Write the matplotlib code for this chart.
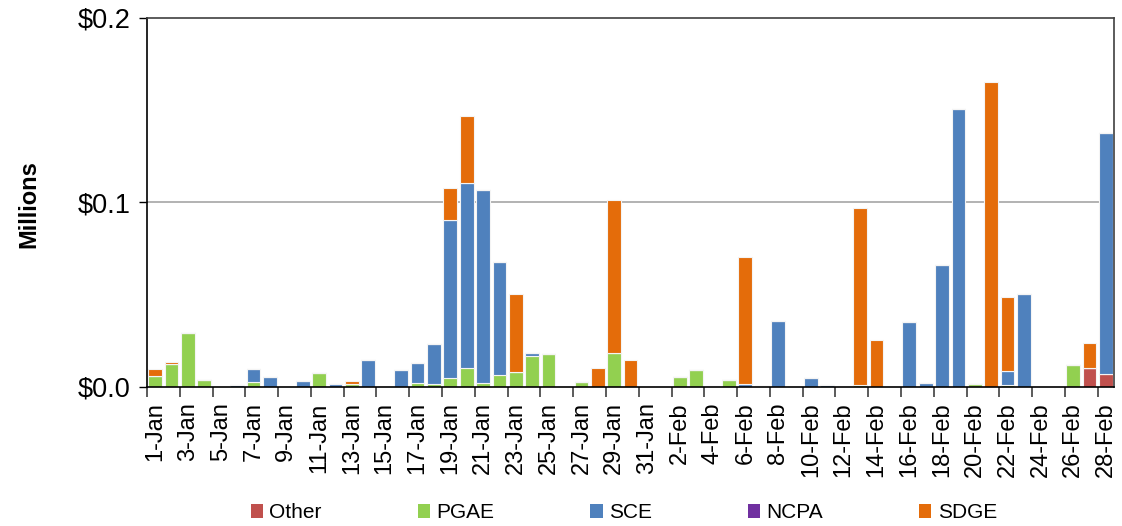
import matplotlib
matplotlib.use("Agg")
import numpy as np
import pandas as pd
import matplotlib.pyplot as plt
from matplotlib.patches import Patch

plt.rcParams['font.family'] = ['Liberation Sans', 'DejaVu Sans']

# daily values, $ millions (1-Jan .. 28-Feb)
dates = pd.date_range('2021-01-01', '2021-02-28', freq='D')
date_labels = [f"{d.day}-{d.strftime('%b')}" for d in dates]

other = [0, 0, 0, 0, 0, 0, 0, 0, 0, 0,
         0, 0, 0, 0, 0, 0, 0, 0, 0, 0,
         0, 0, 0, 0, 0, 0, 0, 0, 0, 0,
         0, 0, 0, 0, 0, 0, 0, 0.0005, 0, 0,
         0, 0, 0, 0, 0, 0, 0, 0, 0, 0,
         0, 0, 0, 0, 0, 0, 0, 0.0105, 0.0072]
pgae = [0.006, 0.0124, 0.029, 0.0036, 0, 0, 0.0025, 0, 0, 0,
        0.0077, 0, 0.0018, 0, 0, 0, 0.0024, 0.0016, 0.0047, 0.0103,
        0.002, 0.0063, 0.008, 0.0166, 0.0178, 0, 0.0025, 0, 0.0182, 0,
        0, 0, 0.0054, 0.0094, 0, 0.0038, 0, 0, 0, 0,
        0, 0, 0, 0.0013, 0, 0, 0, 0, 0, 0,
        0.0018, 0, 0.0009, 0, 0, 0, 0.0119, 0, 0]
sce = [0, 0, 0, 0, 0, 0.0012, 0.0072, 0.0052, 0, 0.0032,
       0, 0.0016, 0, 0.0148, 0, 0.009, 0.0104, 0.0219, 0.0858, 0.1003,
       0.105, 0.0617, 0, 0.0016, 0, 0, 0, 0, 0, 0,
       0, 0, 0, 0, 0.0007, 0, 0.0016, 0, 0.0359, 0,
       0.0047, 0.0009, 0, 0, 0, 0, 0.0354, 0.002, 0.0663, 0.1505,
       0, 0, 0.0076, 0.0505, 0, 0, 0, 0, 0.1305]
ncpa = [0] * 59
sdge = [0.004, 0.0011, 0, 0, 0, 0, 0, 0, 0, 0,
        0, 0, 0.0015, 0, 0, 0, 0, 0, 0.0175, 0.0364,
        0, 0, 0.0422, 0, 0, 0, 0, 0.0101, 0.0834, 0.0144,
        0, 0, 0, 0, 0, 0, 0.0689, 0, 0, 0,
        0, 0, 0, 0.0957, 0.0256, 0, 0, 0, 0, 0,
        0, 0.1653, 0.0405, 0, 0, 0, 0, 0.0135, 0]

series = ['Other', 'PGAE', 'SCE', 'NCPA', 'SDGE']
values = [other, pgae, sce, ncpa, sdge]
colors = ['#C0504D', '#92D050', '#4F81BD', '#7030A0', '#E46C0A']


def plot_stacked(ax):
    x = np.arange(len(date_labels))
    bottom = np.zeros(len(x))
    for name, vals, col in zip(series, values, colors):
        vals = np.array(vals)
        ax.bar(x, vals, width=0.84, bottom=bottom, color=col,
               edgecolor='#F4F4F4', linewidth=0.8, label=name)
        bottom += vals
    return x


fig = plt.figure(figsize=(11.22, 5.26), dpi=100)
ax = fig.add_axes([0.131, 0.2643, 0.862, 0.7015])
x = plot_stacked(ax)

ax.set_xlim(-0.5, len(x) - 0.5)
ax.set_ylim(0, 0.2)
ax.set_yticks([0, 0.1, 0.2])
ax.set_yticklabels(['$0.0', '$0.1', '$0.2'], fontsize=19.5)
ax.tick_params(axis='y', length=6, width=1, pad=6)
ax.axhline(0.1, color='#A6A6A6', linewidth=1.2, zorder=0)

# labels every other day, tick marks on bar boundaries
ax.set_xticks(x[::2])
ax.set_xticklabels(date_labels[::2], rotation=90, fontsize=17)
ax.tick_params(axis='x', which='major', length=0, pad=11)
ax.set_xticks(np.arange(-0.5, len(x), 2), minor=True)
ax.tick_params(axis='x', which='minor', length=7, width=1.2, color='#404040')

for side in ['top', 'right', 'bottom', 'left']:
    ax.spines[side].set_color('#404040')
    ax.spines[side].set_linewidth(1.2)
ax.spines['left'].set_color('black')
ax.spines['bottom'].set_color('black')

fig.text(0.026, 0.612, 'Millions', rotation=90, fontsize=17, fontweight='bold',
         ha='center', va='center')

handles = [Patch(facecolor=c, edgecolor='none', label=s) for s, c in zip(series, colors)]
fig.legend(handles=handles, loc='center', bbox_to_anchor=(0.556, 0.025), ncol=5,
           frameon=False, fontsize=15, handlelength=0.6, handleheight=0.6,
           handletextpad=0.3, columnspacing=4.6)

fig.savefig('out.png', dpi=100)
